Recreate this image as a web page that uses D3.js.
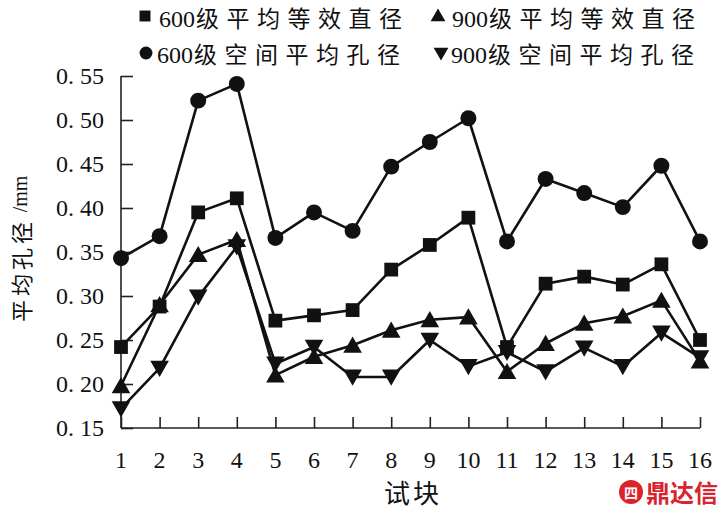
<!DOCTYPE html>
<html><head><meta charset="utf-8">
<script src="https://cdn.jsdelivr.net/npm/d3@7"></script>
<style>
html,body{margin:0;padding:0;background:#fff;}
svg{display:block;}
text{font-family:"Liberation Serif","Noto Sans CJK SC",serif;fill:#111;}
.cjk{font-family:"Noto Sans CJK SC",sans-serif;}
</style></head><body>
<div id="chart"></div>
<script>
const categories = [1,2,3,4,5,6,7,8,9,10,11,12,13,14,15,16];
const seriesNames = ["600级平均等效直径","900级平均等效直径","600级空间平均孔径","900级空间平均孔径"];
const eq600 = [0.242,0.288,0.395,0.411,0.272,0.278,0.284,0.330,0.358,0.389,0.242,0.314,0.322,0.313,0.336,0.250];
const eq900 = [0.198,0.290,0.347,0.364,0.210,0.231,0.244,0.261,0.273,0.276,0.214,0.246,0.269,0.277,0.295,0.226];
const sp600 = [0.343,0.368,0.522,0.541,0.366,0.395,0.374,0.447,0.475,0.502,0.362,0.433,0.417,0.401,0.448,0.362];
const sp900 = [0.172,0.218,0.299,0.356,0.223,0.242,0.208,0.208,0.250,0.220,0.236,0.214,0.241,0.220,0.258,0.230];
const yTicks = [0.15,0.20,0.25,0.30,0.35,0.40,0.45,0.50,0.55];
const yTickLabels = ["0. 15","0. 20","0. 25","0. 30","0. 35","0. 40","0. 45","0. 50","0. 55"];
const yTitle = "平均孔径/mm";
const xTitle = "试块";

const W = 718, H = 515;
const svg = d3.select("#chart").append("svg").attr("width", W).attr("height", H);

const x = d3.scaleLinear().domain([1,16]).range([121,700]);
const y = d3.scaleLinear().domain([0.15,0.55]).range([428,76]);

// axes
const yAxis = d3.axisRight(y).tickValues(yTicks).tickSize(12).tickFormat("");
const gy = svg.append("g").attr("transform","translate(121,0)").call(yAxis);
gy.select(".domain").attr("d", `M0,${y(0.55)}V${y(0.15)}`);
gy.selectAll("line,path").attr("stroke","#222").attr("stroke-width",1.6);

const xAxis = d3.axisTop(x).tickValues(categories).tickSize(11).tickFormat("");
const gx = svg.append("g").attr("transform","translate(0,428)").call(xAxis);
gx.select(".domain").attr("d", `M${x(1)},0H${x(16)}`);
gx.selectAll("line,path").attr("stroke","#222").attr("stroke-width",1.6);

// y tick labels
svg.append("g").selectAll("text").data(yTicks).join("text")
  .attr("x", 104).attr("y", d => y(d) + 8)
  .attr("text-anchor","end").attr("font-size", 24)
  .text((d,i) => yTickLabels[i]);

// x tick labels
svg.append("g").selectAll("text").data(categories).join("text")
  .attr("x", d => x(d)).attr("y", 468)
  .attr("text-anchor","middle").attr("font-size", 24)
  .text(d => d);

// y title: CJK chars along the axis, then "/mm"
const [ytCjk, ytUnit] = yTitle.split("/");
const ytg = svg.append("g");
Array.from(ytCjk).forEach((ch, i) => {
  ytg.append("text").attr("class","cjk")
    .attr("transform", `translate(20,${311 - i*26}) rotate(-90)`)
    .attr("text-anchor","middle").attr("dominant-baseline","central")
    .attr("font-size", 22).text(ch);
});
ytg.append("text").attr("transform","translate(20,194) rotate(-90)")
  .attr("text-anchor","middle").attr("dominant-baseline","central")
  .attr("font-size",20).text("/" + ytUnit);

// x title
Array.from(xTitle).forEach((ch, i) => {
  svg.append("text").attr("class","cjk").attr("x", 397 + i*29).attr("y", 503)
    .attr("text-anchor","middle").attr("font-size", 26).text(ch);
});

// markers
const sym = {
  square: d3.symbol().type(d3.symbolSquare).size(190),
  circle: d3.symbol().type(d3.symbolCircle).size(200),
  tri: d3.symbol().type(d3.symbolTriangle).size(150),
};

const series = [
  {name: seriesNames[0], data: eq600, shape: "square", rot: 0},
  {name: seriesNames[1], data: eq900, shape: "tri", rot: 0},
  {name: seriesNames[2], data: sp600, shape: "circle", rot: 0},
  {name: seriesNames[3], data: sp900, shape: "tri", rot: 180},
];

const line = d3.line().x((d,i) => x(categories[i])).y(d => y(d));
series.forEach(s => {
  svg.append("path").attr("d", line(s.data)).attr("fill","none")
    .attr("stroke","#111").attr("stroke-width",2.6).attr("stroke-linejoin","round");
});
series.forEach(s => {
  svg.append("g").selectAll("path").data(s.data).join("path")
    .attr("d", sym[s.shape]())
    .attr("transform",(d,i) => `translate(${x(categories[i])},${y(d) + (s.shape==="tri" ? (s.rot ? -2 : 2) : 0)}) rotate(${s.rot})`)
    .attr("fill","#111");
});

// legend
const legendItems = [
  {s: series[0], mx: 145, my: 16, tx: 159, ty: 27},
  {s: series[1], mx: 438, my: 17, tx: 452, ty: 27},
  {s: series[2], mx: 146, my: 53, tx: 157, ty: 63},
  {s: series[3], mx: 441, my: 52, tx: 451, ty: 63},
];
const lg = svg.append("g");
legendItems.forEach(it => {
  const symbolSize = it.s.shape === "circle" ? 130 : (it.s.shape === "square" ? 120 : 95);
  const gen = d3.symbol().type(it.s.shape==="square" ? d3.symbolSquare : it.s.shape==="circle" ? d3.symbolCircle : d3.symbolTriangle).size(symbolSize);
  lg.append("path").attr("d", gen()).attr("fill","#111")
    .attr("transform", `translate(${it.mx},${it.my}) rotate(${it.s.rot})`);
  const m = it.s.name.match(/^([0-9]*)(.*)$/);
  const num = m[1], cjk = Array.from(m[2]);
  lg.append("text").attr("x", it.tx).attr("y", it.ty).attr("font-size", 24).text(num);
  cjk.forEach((ch, i) => {
    lg.append("text").attr("class","cjk").attr("x", it.tx + 37 + i*30.5).attr("y", it.ty)
      .attr("font-size", 23).text(ch);
  });
});

// watermark
const wm = svg.append("g").attr("transform","translate(618,478)");
wm.append("circle").attr("cx",13).attr("cy",14).attr("r",12).attr("fill","#d9232d");
wm.append("text").attr("x",13).attr("y",20).attr("text-anchor","middle").attr("font-size",14)
  .attr("font-weight","bold").style("fill","#fff").style("font-family","Noto Sans CJK SC").text("四");
wm.append("text").attr("x",28).attr("y",24).attr("font-size",24).attr("font-weight","bold")
  .style("fill","#d9232d").style("font-family","Noto Sans CJK SC").text("鼎达信");
</script>
</body></html>
